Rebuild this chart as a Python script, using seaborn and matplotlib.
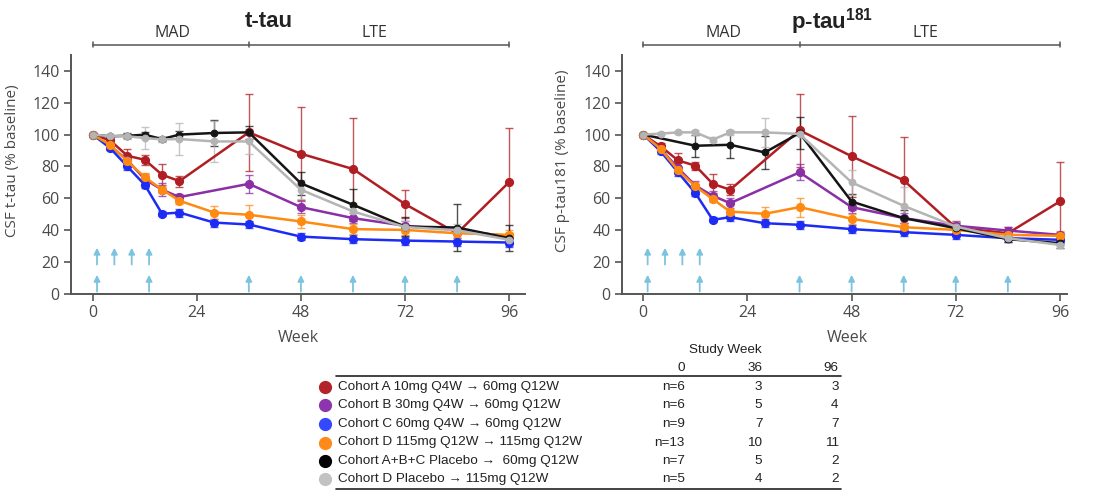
import numpy as np
import pandas as pd
import seaborn as sns
import matplotlib
matplotlib.use("Agg")
import matplotlib.pyplot as plt
from matplotlib.lines import Line2D

nan = np.nan

# ---------------- data ----------------
weeks = [0, 4, 8, 12, 16, 20, 28, 36, 48, 60, 72, 84, 96]

cohort_labels = [
    "Cohort A 10mg Q4W \u2192 60mg Q12W",
    "Cohort B 30mg Q4W \u2192 60mg Q12W",
    "Cohort C 60mg Q4W \u2192 60mg Q12W",
    "Cohort D 115mg Q12W \u2192 115mg Q12W",
    "Cohort A+B+C Placebo \u2192  60mg Q12W",
    "Cohort D Placebo \u2192 115mg Q12W",
]
n_week0 = ["n=6", "n=6", "n=9", "n=13", "n=7", "n=5"]
n_week36 = [3, 5, 7, 10, 5, 4]
n_week96 = [3, 4, 7, 11, 2, 2]
table_weeks = ["0", "36", "96"]

# t-tau (% baseline)
ttau_A = [100, 96.4, 86.7, 84.2, 74.8, 70.8, nan, 101.4, 88.0, 78.4, 56.4, 38.1, 70.2]
ttau_A_err = [0, 2, 4, 3, 6.5, 3.5, nan, 24, 29, 32, 9, 4, 34]
ttau_B = [100, 93.0, 84.0, 72.0, 65.4, 60.8, nan, 69.1, 54.5, 47.6, 42.8, 40.2, 36.0]
ttau_B_err = [0, 2, 3, 3, 4, 2, nan, 5.5, 4, 3, 3, 2, 2]
ttau_C = [100, 91.6, 80.0, 68.5, 50.3, 51.1, 44.8, 43.6, 36.0, 34.4, 33.5, 32.9, 32.3]
ttau_C_err = [0, 1.5, 2, 2, 1.5, 2.5, 2.5, 2.5, 2, 2.5, 2.5, 2.5, 3]
ttau_D = [100, 93.6, 83.2, 73.3, 65.5, 58.5, 51.1, 49.7, 45.5, 40.7, 40.2, 38.1, 37.1]
ttau_D_err = [0, 2, 2, 2.5, 2, 2, 4, 6, 4, 3, 3, 3, 3]
ttau_P = [100, 98.9, 99.3, 99.9, 97.2, 100.0, 101.0, 101.4, 69.4, 56.0, 42.3, 41.7, 35.0]
ttau_P_err = [0, 1, 1.5, 2, 1.5, 2, 8, 4, 7, 10, 6, 15, 8]
ttau_DP = [100, 99.0, 99.0, 97.8, 97.0, 97.2, 95.7, 95.7, 65.4, 51.8, 42.0, 40.0, 34.0]
ttau_DP_err = [0, 1, 1.5, 7, 1.5, 10, 13, 8, 6, 5, 4, 4, 4]

# p-tau181 (% baseline)
ptau_A = [100, 92.6, 83.8, 80.5, 69.1, 65.4, nan, 102.7, 86.4, 71.3, 41.7, 38.1, 58.1]
ptau_A_err = [0, 2, 4.5, 2.5, 6, 3.5, nan, 23, 25.5, 27, 4, 4, 25]
ptau_B = [100, 91.0, 79.0, 68.0, 61.6, 57.0, nan, 76.3, 54.5, 47.6, 42.8, 39.8, 37.1]
ptau_B_err = [0, 2, 3, 3, 3, 3, nan, 5, 4, 3, 2.5, 2.5, 2]
ptau_C = [100, 89.5, 76.3, 63.3, 46.5, 48.2, 44.4, 43.4, 40.7, 38.8, 37.1, 35.0, 34.0]
ptau_C_err = [0, 1.5, 2, 2, 1.5, 2.5, 2.5, 2.5, 2.5, 2.5, 2.5, 2.5, 3]
ptau_D = [100, 91.0, 77.5, 67.5, 59.5, 51.7, 50.3, 54.5, 47.2, 41.9, 40.2, 37.1, 36.5]
ptau_D_err = [0, 2, 2, 3, 2, 2, 4.5, 6, 3, 2.5, 2.5, 3, 3]
ptau_P = [100, nan, nan, 93.0, nan, 93.6, 88.8, 101.0, 58.0, 47.6, 41.3, 34.4, 31.9]
ptau_P_err = [0, nan, nan, 7, nan, 8.5, 10.5, 10, 5, 5, 3, 2, 3]
ptau_DP = [100, 100.6, 101.4, 101.4, 96.8, 101.4, 101.4, 100.4, 70.0, 55.3, 42.3, 35.0, 30.8]
ptau_DP_err = [0, 1, 1, 1.5, 1.5, 1.5, 9, 1.5, 8, 12, 3, 2, 2]

dose_top_weeks = [1, 5, 9, 13]
dose_bottom_weeks = [1, 13, 36, 48, 60, 72, 84]
phase_labels = ["MAD", "LTE"]
phase_bounds = [0, 36, 96]
y_ticks = [0, 20, 40, 60, 80, 100, 120, 140]
x_ticks = [0, 24, 48, 72, 96]

# ---------------- style ----------------
colors = ["#b01e23", "#8a2fa6", "#1d2cf5", "#ff8a12", "#151515", "#b4b4b4"]
legend_colors = ["#b3242a", "#8d35ad", "#3348ff", "#ff8a1c", "#000000", "#c2c2c2"]
arrow_color = "#7cc3df"
axis_color = "#555555"
text_color = "#4a4a4a"

sns.set_theme(style="white")
plt.rcParams["font.family"] = ["Open Sans", "DejaVu Sans"]
plt.rcParams["mathtext.fontset"] = "custom"
plt.rcParams["mathtext.bf"] = "Liberation Sans:bold"
plt.rcParams["mathtext.rm"] = "Liberation Sans"

fig = plt.figure(figsize=(11.16, 4.9), dpi=100)
fig.patch.set_facecolor("white")
ax1 = fig.add_axes([0.0636, 0.40, 0.407, 0.488])
ax2 = fig.add_axes([0.557, 0.40, 0.399, 0.488])

order = [5, 4, 3, 1, 2, 0]  # draw order: grey, black, orange, purple, blue, red


def draw_panel(ax, series, errs, title, ylabel, xmax):
    for i in order:
        y = np.array(series[i], dtype=float)
        e = np.array(errs[i], dtype=float)
        w = np.array(weeks, dtype=float)
        m = ~np.isnan(y)
        df = pd.DataFrame({"week": w[m], "value": y[m]})
        ax.errorbar(w[m], y[m], yerr=e[m], fmt="none", ecolor=colors[i],
                    elinewidth=1.0, capsize=3, capthick=1.0, alpha=0.75, zorder=2 + i * 0.1)
        sns.lineplot(data=df, x="week", y="value", ax=ax, color=colors[i],
                     linewidth=1.8, marker="o", markersize=5.8 if i < 4 else 4.8,
                     markeredgecolor=colors[i], markeredgewidth=0.8,
                     legend=False, errorbar=None, sort=True, zorder=3 + i * 0.1)

    ax.set_xlim(-5, xmax)
    ax.set_ylim(0, 150)
    ax.set_yticks(y_ticks)
    ax.set_xticks(x_ticks)
    ax.tick_params(axis="both", which="both", direction="out", length=5, width=1.2,
                   color=axis_color, labelsize=11.5, labelcolor=text_color,
                   left=True, bottom=True, pad=3)
    for s in ["top", "right"]:
        ax.spines[s].set_visible(False)
    for s in ["left", "bottom"]:
        ax.spines[s].set_color(axis_color)
        ax.spines[s].set_linewidth(1.4)
    ax.set_xlabel("Week", fontsize=11.5, color=text_color)
    ax.set_ylabel(ylabel, fontsize=11, color=text_color)
    ax.grid(False)

    # dosing arrows
    for wk in dose_top_weeks:
        ax.annotate("", xy=(wk, 29), xytext=(wk, 18.5),
                    arrowprops=dict(arrowstyle="-|>", color=arrow_color, lw=1.3,
                                    mutation_scale=9, shrinkA=0, shrinkB=0),
                    annotation_clip=False)
    for wk in dose_bottom_weeks:
        ax.annotate("", xy=(wk, 12), xytext=(wk, 1.5),
                    arrowprops=dict(arrowstyle="-|>", color=arrow_color, lw=1.3,
                                    mutation_scale=9, shrinkA=0, shrinkB=0),
                    annotation_clip=False)

    # phase bracket
    yb = 156.5
    ax.plot([phase_bounds[0], phase_bounds[-1]], [yb, yb], color=axis_color, lw=1.1,
            clip_on=False)
    for b in phase_bounds:
        ax.plot([b, b], [yb - 1.6, yb + 1.6], color=axis_color, lw=1.1, clip_on=False)
    ax.text(18.4, 164, phase_labels[0], ha="center", va="center", fontsize=11.5,
            color="#333333", clip_on=False)
    ax.text(65.0, 164, phase_labels[1], ha="center", va="center", fontsize=11.5,
            color="#333333", clip_on=False)
    ax.text(title[1], 171, title[0], ha="center", va="center", fontsize=16,
            fontweight="bold", color="#222222", clip_on=False,
            family=["Liberation Sans", "DejaVu Sans"])


draw_panel(ax1,
           [ttau_A, ttau_B, ttau_C, ttau_D, ttau_P, ttau_DP],
           [ttau_A_err, ttau_B_err, ttau_C_err, ttau_D_err, ttau_P_err, ttau_DP_err],
           ("t-tau", 40.5), "CSF t-tau (% baseline)", 99.7)
draw_panel(ax2,
           [ptau_A, ptau_B, ptau_C, ptau_D, ptau_P, ptau_DP],
           [ptau_A_err, ptau_B_err, ptau_C_err, ptau_D_err, ptau_P_err, ptau_DP_err],
           ("p-tau$^{\\mathbf{181}}$", 43.6), "CSF p-tau181 (% baseline)", 97.6)

ax1.yaxis.set_label_coords(-0.112, 0.556)
ax2.yaxis.set_label_coords(-0.117, 0.556)
ax1.xaxis.set_label_coords(0.50, -0.15)
ax2.xaxis.set_label_coords(0.508, -0.15)

# ---------------- table legend ----------------
W, H = 1116.0, 490.0


def fx(px):
    return px / W


def fy(py):
    return 1 - py / H


tfont = ["Liberation Sans", "DejaVu Sans"]
tsize = 9.7
tcol = "#222222"
fig.text(fx(725), fy(350), "Study Week", ha="center", va="center", fontsize=tsize,
         color=tcol, family=tfont)
col_x = [685, 762.5, 838.6]
for cx, lab in zip(col_x, table_weeks):
    fig.text(fx(cx), fy(367.5), lab, ha="right", va="center", fontsize=tsize,
             color=tcol, family=tfont)
fig.add_artist(Line2D([fx(336), fx(841)], [fy(375.7), fy(375.7)], color="#222222", lw=1.2))
fig.add_artist(Line2D([fx(336), fx(841)], [fy(488.5), fy(488.5)], color="#222222", lw=1.2))

row_y = [386.7, 405.4, 424.0, 442.5, 461.0, 479.3]
for i, ry in enumerate(row_y):
    fig.add_artist(Line2D([fx(325)], [fy(ry)], marker="o", markersize=8.5, lw=0,
                          markerfacecolor=legend_colors[i], markeredgecolor=legend_colors[i]))
    fig.text(fx(337.5), fy(ry), cohort_labels[i], ha="left", va="center", fontsize=tsize,
             color=tcol, family=tfont)
    fig.text(fx(col_x[0]), fy(ry), n_week0[i], ha="right", va="center", fontsize=tsize,
             color=tcol, family=tfont)
    fig.text(fx(col_x[1]), fy(ry), str(n_week36[i]), ha="right", va="center",
             fontsize=tsize, color=tcol, family=tfont)
    fig.text(fx(col_x[2]), fy(ry), str(n_week96[i]), ha="right", va="center",
             fontsize=tsize, color=tcol, family=tfont)

fig.savefig("out.png", dpi=100, facecolor="white")
